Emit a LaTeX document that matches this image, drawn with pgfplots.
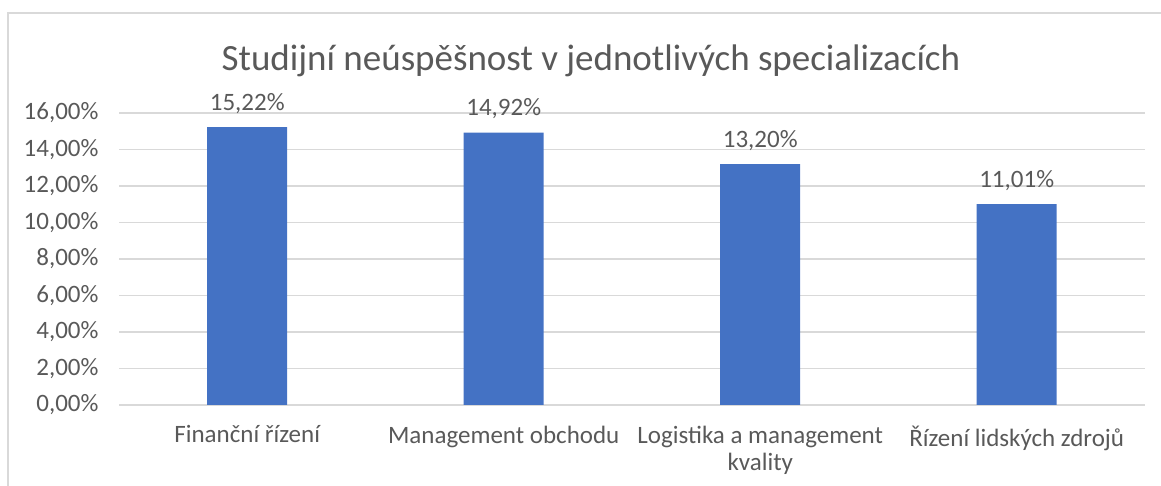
\documentclass[border=0pt]{standalone}
\usepackage{fontspec}
\setmainfont{Carlito}
\usepackage{pgfplots}
\pgfplotsset{compat=1.18}
\definecolor{barblue}{HTML}{4472C4}
\definecolor{txt}{HTML}{595959}
\definecolor{gridc}{HTML}{D9D9D9}
\begin{document}
\begin{tikzpicture}[x=1pt,y=1pt]
\path[use as bounding box] (0,0) rectangle (1161,486);
\draw[gridc, line width=1.5pt] (8,-10) -- (8,473) -- (1175,473);
\node[txt, font=\fontsize{37}{44}\selectfont] at (591,425) {Studijní neúspěšnost v jednotlivých specializacích};
\begin{axis}[
  at={(119pt,81pt)}, anchor=south west,
  scale only axis, width=1026pt, height=292pt,
  xmin=-0.5, xmax=3.5, ymin=0, ymax=16,
  ytick={0,2,...,16},
  ymajorgrids, grid style={gridc, line width=1.3pt},
  axis line style={draw=none}, tick style={draw=none},
  ybar, bar width=80pt, bar shift=0pt,
  xtick=data,
  xticklabels={Finanční řízení, Management obchodu, {Logistika a management\\kvality}, Řízení lidských zdrojů},
  xticklabel style={align=center, txt, font=\fontsize{25}{27}\selectfont, yshift=-13pt},
  yticklabel style={txt, font=\fontsize{25}{27}\selectfont, xshift=-17pt},
  /pgf/number format/assume math mode=true,
  yticklabel={\pgfmathprintnumber[fixed, fixed zerofill, precision=2, use comma]{\tick}\%},
  nodes near coords={\pgfmathprintnumber[fixed, fixed zerofill, precision=2, use comma]{\pgfplotspointmeta}\%},
  nodes near coords style={txt, font=\fontsize{25}{27}\selectfont, yshift=10pt},
]
\addplot[fill=barblue, draw=none] coordinates {(0,15.22) (1,14.92) (2,13.20) (3,11.01)};
\end{axis}
\end{tikzpicture}
\end{document}
